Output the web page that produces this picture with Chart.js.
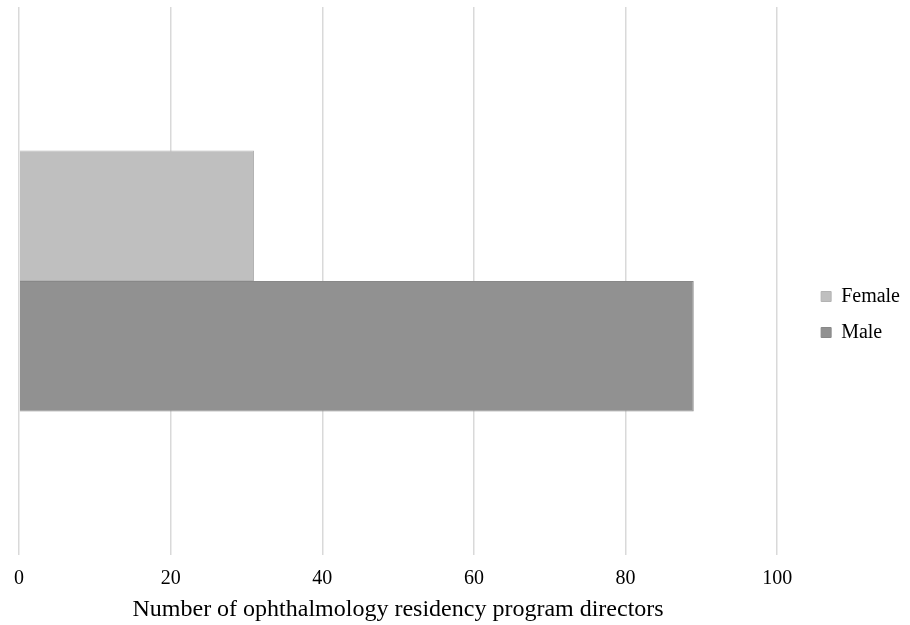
<!DOCTYPE html>
<html>
<head>
<meta charset="utf-8">
<script src="https://cdn.jsdelivr.net/npm/chart.js@4/dist/chart.umd.min.js"></script>
<style>
  html, body { margin: 0; padding: 0; background: #fff; }
  #wrap { width: 910px; height: 625px; }
</style>
</head>
<body>
<div id="wrap"><canvas id="chart"></canvas></div>
<script>
// values
const categories = [""];
const femaleCounts = [31];
const maleCounts = [89];
const xTicks = [0, 20, 40, 60, 80, 100];

const greys = {
  female: "#bfbfbf",
  male: "#919191",
  grid: "#d9d9d9",
  text: "#000000",
};

const serif = "'Liberation Serif', 'Times New Roman', serif";

new Chart(document.getElementById("chart").getContext("2d"), {
  type: "bar",
  data: {
    labels: categories,
    datasets: [
      {
        label: "Female",
        data: femaleCounts,
        backgroundColor: greys.female,
        borderColor: "#b3b3b3",
        borderWidth: 1,
        barPercentage: 1,
        categoryPercentage: 0.476,
      },
      {
        label: "Male",
        data: maleCounts,
        backgroundColor: greys.male,
        borderColor: "#888888",
        borderWidth: 1,
        barPercentage: 1,
        categoryPercentage: 0.476,
      },
    ],
  },
  options: {
    indexAxis: "y",
    responsive: true,
    maintainAspectRatio: false,
    animation: false,
    layout: { padding: { left: 15, top: 7, right: 0, bottom: 3 } },
    plugins: {
      tooltip: { enabled: false },
      legend: {
        display: true,
        position: "right",
        labels: {
          color: greys.text,
          font: { family: serif, size: 20 },
          boxWidth: 10,
          boxHeight: 10,
          padding: 16,
        },
      },
    },
    scales: {
      x: {
        min: xTicks[0],
        max: xTicks[xTicks.length - 1],
        afterBuildTicks: (axis) => {
          axis.ticks = xTicks.map((v) => ({ value: v }));
        },
        grid: { color: greys.grid, lineWidth: 1.5, drawTicks: false },
        border: { display: false },
        ticks: {
          color: greys.text,
          font: { family: serif, size: 20, lineHeight: 1 },
          padding: 14,
          maxRotation: 0,
        },
        title: {
          display: true,
          text: "Number of ophthalmology residency program directors",
          color: greys.text,
          font: { family: serif, size: 24, lineHeight: 1 },
          padding: { top: -5, bottom: 0 },
        },
      },
      // category axis kept invisible, only used as a spacer before the legend
      y: {
        position: "right",
        grid: { display: false },
        border: { display: false },
        ticks: { display: false },
        afterFit: (axis) => {
          axis.width = 28;
        },
      },
    },
  },
});
</script>
</body>
</html>
